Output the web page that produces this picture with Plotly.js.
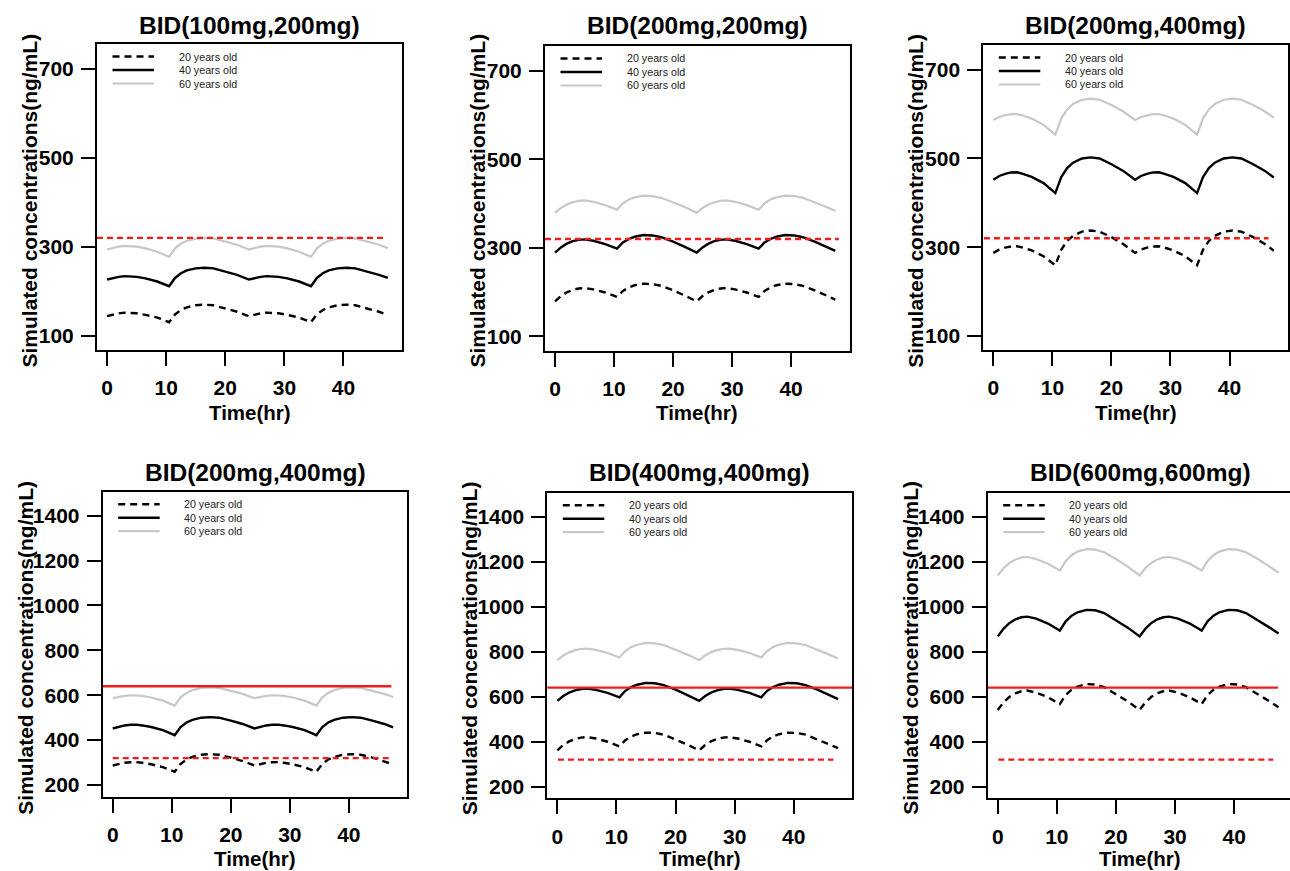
<!DOCTYPE html>
<html><head><meta charset="utf-8">
<script src="https://cdn.plot.ly/plotly-3.0.1.min.js"></script>
<style>html,body{margin:0;padding:0;overflow:hidden;background:#fff}#chart{width:1300px;height:871px}</style>
</head><body><div id="chart"></div>
<script>
// ---- data ----
const times = [0,1,2,3,4,5,6.5,8.5,10.5,11.5,12.5,13.5,15,16.5,18,20,22,24,25,26,27,28,29,30.5,32.5,34.5,35.5,36.5,37.5,39,40.5,42,44,46,47.5];
const ageLabels = ['20 years old','40 years old','60 years old'];
const panelTitles = ['BID(100mg,200mg)','BID(200mg,200mg)','BID(200mg,400mg)','BID(200mg,400mg)','BID(400mg,400mg)','BID(600mg,600mg)'];

// BID(100mg,200mg)
const a_20y = [144,148,150.5,152,152,150.5,147,141,130.5,148,158,164,168.5,170,168.5,162,154,144,148,150.5,152,152,150.5,147,141,130.5,148,158,164,168.5,170,168.5,162,154,147];
const a_40y = [226.5,230,232.5,234,234,232.5,229,222,211.5,230,240.5,247,251.5,253,251.5,245,237,226.5,230,232.5,234,234,232.5,229,222,211.5,230,240.5,247,251.5,253,251.5,245,237,230];
const a_60y = [294,298,300.5,302,302,300.5,296.5,289,277.5,296.5,307,313.5,318.5,320,319,312,304.5,294,298,300.5,302,302,300.5,296.5,289,277.5,296.5,307,313.5,318.5,320,319,312,304.5,297];
// BID(200mg,200mg)
const b_20y = [179,191,199.5,205,208,209,206,199,189,202.5,210.5,215.5,219,218,214,204,192,179,191,199.5,205,208,209,206,199,189,202.5,210.5,215.5,219,218,214,204,192,183];
const b_40y = [289,301,309.5,315,318,319,316,308.5,298,312,320,325,329,328,324,314,302,289,301,309.5,315,318,319,316,308.5,298,312,320,325,329,328,324,314,302,293];
const b_60y = [379,390,398,403,406,407,404,396.5,386,400.5,409,414,418,417,413,403,392,379,390,398,403,406,407,404,396.5,386,400.5,409,414,418,417,413,403,392,383];
// BID(200mg,400mg)
const c_20y = [287,294.5,299,301.5,302,299,292.5,279.5,259,294,314,325.5,335,337.5,335,322.5,307,287,294.5,299,301.5,302,299,292.5,279.5,259,294,314,325.5,335,337.5,335,322.5,307,292];
const c_40y = [452,460.5,465.5,468.5,469,465.5,458.5,444.5,422,458,478.5,490.5,500,502.5,500,487,472,452,460.5,465.5,468.5,469,465.5,458.5,444.5,422,458,478.5,490.5,500,502.5,500,487,472,457];
const c_60y = [587,593.5,597.5,600,600,597,590,576,554,590.5,610.5,623,632.5,635,632.5,620.5,606,587,593.5,597.5,600,600,597,590,576,554,590.5,610.5,623,632.5,635,632.5,620.5,606,592];
// BID(400mg,400mg)
const d_20y = [361,385,401,412,418,420,414,399.5,379,406.5,423,433,440,438.5,431,410,387,361,385,401,412,418,420,414,399.5,379,406.5,423,433,440,438.5,431,410,387,371];
const d_40y = [581,603,618,628,634,636,630,616.5,597,626,643,653,661,659.5,651,631,607,581,603,618,628,634,636,630,616.5,597,626,643,653,661,659.5,651,631,607,589];
const d_60y = [762,783,797,807,812,814,808,794,774,803,821,831,839,837,830,810,787,762,783,797,807,812,814,808,794,774,803,821,831,839,837,830,810,787,770];
// BID(600mg,600mg)
const e_20y = [541,575,599.5,615,624,627,618,597,567,607,631,645,656,654,642,612,579,541,575,599.5,615,624,627,618,597,567,607,631,645,656,654,642,612,579,553];
const e_40y = [868,903,928,944,953,956,947,925,894,935,960,975,986,984,972,941,907,868,903,928,944,953,956,947,925,894,935,960,975,986,984,972,941,907,881];
const e_60y = [1139,1172,1195,1210,1219,1221,1212,1191,1161,1204,1229,1245,1256,1254,1242,1212,1178,1139,1172,1195,1210,1219,1221,1212,1191,1161,1204,1229,1245,1256,1254,1242,1212,1178,1152];

// reference concentration lines
const refLow = [320, 320];
const refHigh = [640, 640];
const refLowX_top = [[-1.7, 46.7], [-1.7, 48.1], [-1.6, 46.6]];
const refLowX_bottom = [[0, 47.2], [0.1, 46.7], [0.1, 46.6]];
const refHighX_bottom = [[-1.75, 47.2], [-1.76, 49.9], [-1.7, 47.4]];

const yTicksTop = [100, 300, 500, 700];
const yTicksBottom = [200, 400, 600, 800, 1000, 1200, 1400];
const xTicks = [0, 10, 20, 30, 40];

// ---- layout geometry (pixels) ----
const W = 1300, H = 871;
const FONT = "'Liberation Sans', Arimo, Arial, sans-serif";
const boxes = [
  {l:97, r:402, t:44, b:350},
  {l:545, r:849.5, t:46, b:350.5},
  {l:983.3, r:1288, t:45, b:350},
  {l:102.7, r:407.3, t:491.7, b:796.7},
  {l:547.3, r:852.3, t:492.7, b:798.3},
  {l:987.7, r:1292.7, t:492.7, b:798.3}
];
const series = [[a_20y,a_40y,a_60y],[b_20y,b_40y,b_60y],[c_20y,c_40y,c_60y],[c_20y,c_40y,c_60y],[d_20y,d_40y,d_60y],[e_20y,e_40y,e_60y]];
const styles = [
  {color:'#000000', width:2.4, dash:'7px,5px'},
  {color:'#000000', width:2.4, dash:'solid'},
  {color:'#c8c8c8', width:2.2, dash:'solid'}
];
const redDash = {color:'#ee1c1c', width:2.4, dash:'6px,4px'};
const redSolid = {color:'#ee1c1c', width:2.4, dash:'solid'};

const px = x => x / W;
const py = y => 1 - y / H;

const traces = [], shapes = [], annotations = [];
const layout = {
  width: W, height: H, margin:{l:0,r:0,t:0,b:0},
  paper_bgcolor:'#ffffff', plot_bgcolor:'#ffffff',
  showlegend:false, font:{family:FONT, color:'#000'}
};

boxes.forEach((bx, i) => {
  const n = i + 1;
  const xa = n === 1 ? 'x' : 'x' + n;
  const ya = n === 1 ? 'y' : 'y' + n;
  const top = i < 3;
  layout[n === 1 ? 'xaxis' : 'xaxis' + n] = {
    domain:[px(bx.l), px(bx.r)], anchor: ya, range:[-1.7, 49.9],
    tickvals: xTicks, ticktext: xTicks.map(String), ticks:'outside', ticklen:14, tickwidth:2, tickcolor:'#000',
    showline:true, linewidth:2, linecolor:'#000', mirror:true, showgrid:false, zeroline:false,
    tickfont:{family:FONT, size:21, color:'#000', weight:'bold'}, ticklabelstandoff:4, fixedrange:true
  };
  const yt = top ? yTicksTop : yTicksBottom;
  layout[n === 1 ? 'yaxis' : 'yaxis' + n] = {
    domain:[py(bx.b), py(bx.t)], anchor: xa, range: top ? [68, 756] : [148, 1507],
    tickvals: yt, ticktext: yt.map(String), ticks:'outside', ticklen:14, tickwidth:2, tickcolor:'#000',
    showline:true, linewidth:2, linecolor:'#000', mirror:true, showgrid:false, zeroline:false,
    tickfont:{family:FONT, size:21, color:'#000', weight:'bold'}, ticklabelstandoff:3, fixedrange:true
  };

  // curves: 60, 40, 20 years
  [2,1,0].forEach(k => {
    traces.push({x: times, y: series[i][k], xaxis: xa, yaxis: ya, mode:'lines', name: ageLabels[k],
      line:{color:styles[k].color, width:styles[k].width, dash:styles[k].dash}, hoverinfo:'skip'});
  });
  // reference lines
  if (top) {
    traces.push({x: refLowX_top[i], y: refLow, xaxis: xa, yaxis: ya, mode:'lines', line: redDash, hoverinfo:'skip'});
  } else {
    traces.push({x: refHighX_bottom[i-3], y: refHigh, xaxis: xa, yaxis: ya, mode:'lines', line: redSolid, hoverinfo:'skip'});
    traces.push({x: refLowX_bottom[i-3], y: refLow, xaxis: xa, yaxis: ya, mode:'lines', line: redDash, hoverinfo:'skip'});
  }

  // legend (drawn inside each panel)
  const bw = bx.r - bx.l, bh = bx.b - bx.t;
  const rows = [12.5, 26, 39.5];
  rows.forEach((ry, k) => {
    shapes.push({type:'line', xref: xa + ' domain', yref: ya + ' domain',
      x0: 15.5 / bw, x1: 57 / bw, y0: 1 - ry / bh, y1: 1 - ry / bh,
      line:{color:styles[k].color, width:styles[k].width, dash:styles[k].dash}});
    annotations.push({xref: xa + ' domain', yref: ya + ' domain', x: 79.5 / bw, y: 1 - ry / bh,
      xanchor:'left', yanchor:'middle', showarrow:false, text: ageLabels[k],
      font:{family:FONT, size:10.7, color:'#222'}});
  });

  const cx = (bx.l + bx.r) / 2;
  // panel title
  annotations.push({xref:'paper', yref:'paper', x: px(cx), y: py(top ? 25.5 : 472), xanchor:'center', yanchor:'middle',
    showarrow:false, text: panelTitles[i], font:{family:FONT, size:24.5, color:'#000', weight:'bold'}});
  // x axis title
  annotations.push({xref:'paper', yref:'paper', x: px(cx), y: py(top ? 412 : 858), xanchor:'center', yanchor:'middle',
    showarrow:false, text:'Time(hr)', font:{family:FONT, size:20.5, color:'#000', weight:'bold'}});
  // y axis title
  annotations.push({xref:'paper', yref:'paper', x: px(bx.l - (top ? 68.5 : 78)), y: py(top ? 201 : 648), xanchor:'center', yanchor:'middle',
    textangle:-90, showarrow:false, text:'Simulated concentrations(ng/mL)', font:{family:FONT, size:21, color:'#000', weight:'bold'}});
});

layout.shapes = shapes;
layout.annotations = annotations;
Plotly.newPlot('chart', traces, layout, {staticPlot:true, displayModeBar:false});
</script></body></html>
